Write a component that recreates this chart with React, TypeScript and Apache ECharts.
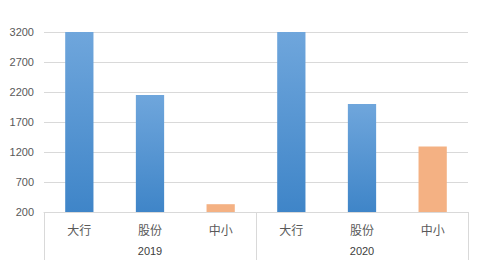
import React, { useEffect, useRef } from "react";
import * as echarts from "echarts";

const categories = ["大行", "股份", "中小", "大行", "股份", "中小"];
const years = ["2019", "2020"];
const values = [3200, 2150, 330, 3200, 2000, 1290];
const kinds = ["big", "big", "small", "big", "big", "small"];
const yMin = 200;
const yMax = 3200;
const yInterval = 500;

export default function App() {
  const ref = useRef<HTMLDivElement>(null);
  useEffect(() => {
    if (!ref.current) return;
    const chart = echarts.init(ref.current, undefined, { renderer: "svg" });
    const blue = new echarts.graphic.LinearGradient(0, 0, 0, 1, [
      { offset: 0, color: "#6fa6dc" },
      { offset: 1, color: "#3f85c8" },
    ]);
    const orange = "#f4b183";
    chart.setOption({
      animation: false,
      grid: { left: 44, right: 15, top: 32, bottom: 55, containLabel: false },
      xAxis: [
        {
          type: "category",
          data: categories,
          position: "bottom",
          axisLine: { show: true, lineStyle: { color: "#d9d9d9" } },
          axisTick: { show: false },
          axisLabel: {
            color: "#595959",
            fontSize: 12,
            margin: 11,
            fontFamily: "Noto Sans CJK SC",
          },
        },
        {
          type: "category",
          data: years,
          position: "bottom",
          axisLine: { show: false },
          axisTick: {
            show: true,
            length: 48,
            interval: 0,
            lineStyle: { color: "#d9d9d9" },
          },
          axisLabel: {
            color: "#404040",
            fontSize: 11,
            margin: 33,
            fontFamily: "Liberation Sans",
          },
          splitLine: { show: false },
        },
      ],
      yAxis: {
        type: "value",
        min: yMin,
        max: yMax,
        interval: yInterval,
        axisLine: { show: false },
        axisTick: { show: false },
        axisLabel: {
          color: "#595959",
          fontSize: 11,
          margin: 10,
          fontFamily: "Liberation Sans",
          formatter: (v: number) => String(v),
        },
        splitLine: { lineStyle: { color: "#d9d9d9" } },
      },
      series: [
        {
          type: "bar",
          xAxisIndex: 0,
          barWidth: "40%",
          data: values.map((v, i) => ({
            value: v,
            itemStyle: { color: kinds[i] === "big" ? blue : orange },
          })),
        },
      ],
    });
    return () => chart.dispose();
  }, []);
  return <div ref={ref} style={{ width: 483, height: 267, position: "absolute", left: 0, top: 0 }} />;
}
